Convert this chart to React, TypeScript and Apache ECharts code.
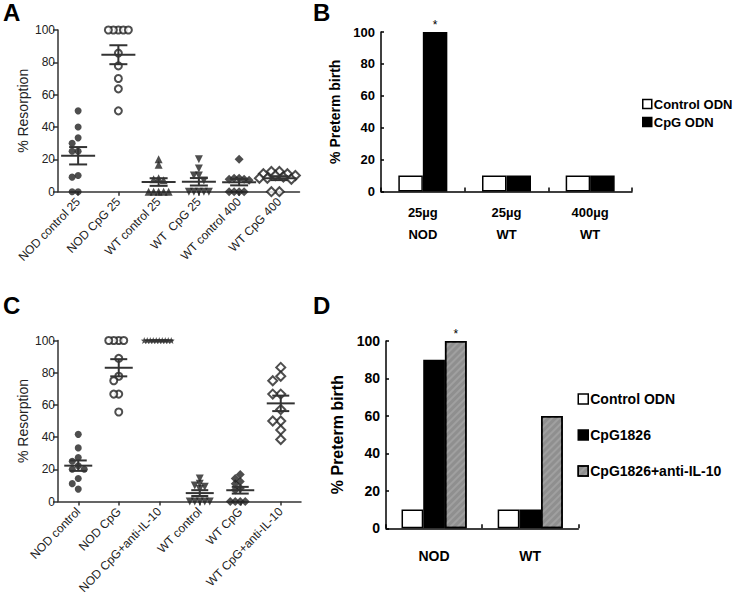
import React, { useEffect, useRef } from 'react';
import * as echarts from 'echarts';

// ---------- Panel A data ----------
const catsA = ['NOD control 25', 'NOD CpG 25', 'WT control 25', 'WT  CpG 25', 'WT control 400', 'WT CpG 400'];
const aNodControl25 = [50, 40, 33.3, 30, 25, 25, 10, 9, 0, 0];
const aNodCpG25 = [100, 100, 100, 100, 100, 85.7, 77.8, 70, 63.6, 50];
const aWtControl25 = [20, 16.7, 8.3, 7.7, 7.1, 0, 0, 0, 0, 0];
const aWtCpG25 = [20, 14.3, 10, 10, 7, 0, 0, 0, 0, 0];
const aWtControl400 = [20, 8.3, 8.3, 7.7, 7.7, 7.1, 0, 0, 0, 0];
const aWtCpG400 = [12.5, 12.5, 11.1, 11.1, 10, 10, 9.1, 8.3, 8.3, 7.7, 0, 0];

// ---------- Panel B data ----------
const catsB = ['25µg\nNOD', '25µg\nWT', '400µg\nWT'];
const bControlODN = [10, 10, 10];
const bCpGODN = [100, 10, 10];
const bCpGStar = [true, false, false];

// ---------- Panel C data ----------
const catsC = ['NOD control', 'NOD CpG', 'NOD CpG+anti-IL-10', 'WT control', 'WT CpG', 'WT CpG+anti-IL-10'];
const cNodControl = [41.7, 33.3, 27.3, 25, 22.2, 20, 20, 14.3, 11.1, 7.7];
const cNodCpG = [100, 100, 100, 100, 88.9, 77.8, 75, 66.7, 66.7, 55.6];
const cNodCpGAnti = [100, 100, 100, 100, 100, 100, 100, 100, 100, 100];
const cWtControl = [14.3, 11.1, 10, 9.1, 7.7, 0, 0, 0, 0, 0];
const cWtCpG = [16.7, 14.3, 12.5, 11.1, 8.3, 7.1, 0, 0, 0, 0];
const cWtCpGAnti = [83.3, 77.8, 75, 66.7, 66.7, 57.1, 50, 50, 44.4, 38.5];

// ---------- Panel D data ----------
const catsD = ['NOD', 'WT'];
const dControlODN = [10, 10];
const dCpG1826 = [90, 10];
const dCpG1826Anti = [100, 60];
const dAntiStar = [true, false];

const yTicks = [0, 20, 40, 60, 80, 100];

const FONT = 'Arial, "Liberation Sans", Helvetica, sans-serif';
const PT = '#222';
const AX = '#333';
const STAR = 'path://M0,-10L2.35,-3.24L9.51,-3.09L3.8,1.24L5.88,8.09L0,4L-5.88,8.09L-3.8,1.24L-9.51,-3.09L-2.35,-3.24Z';

function swarm(values: number[], pxPerUnit: number, step: number, minDist: number) {
  const placed: { x: number; y: number }[] = [];
  return values.map((v) => {
    const y = v * pxPerUnit;
    for (let k = 0; k < 60; k++) {
      const m = Math.ceil(k / 2) * (k % 2 === 1 ? -1 : 1);
      const dx = m * step;
      if (placed.every((p) => (p.x - dx) ** 2 + (p.y - y) ** 2 >= minDist * minDist - 0.01)) {
        placed.push({ x: dx, y });
        return dx;
      }
    }
    return 0;
  });
}

function meanSem(vals: number[]) {
  const n = vals.length;
  const m = vals.reduce((a, b) => a + b, 0) / n;
  const sd = Math.sqrt(vals.reduce((a, b) => a + (b - m) ** 2, 0) / (n - 1));
  return [m, sd / Math.sqrt(n)];
}

type Mk = { symbol: string; size: number; filled: boolean; rotate?: number; step?: number; dist?: number };

function scatter(axis: number, idx: number, vals: number[], mk: Mk, pxPerUnit: number) {
  const offs = swarm(vals, pxPerUnit, mk.step ?? 6, mk.dist ?? 6);
  return {
    type: 'scatter',
    xAxisIndex: axis,
    yAxisIndex: axis,
    clip: false,
    symbol: mk.symbol,
    symbolSize: mk.size,
    symbolRotate: mk.rotate ?? 0,
    itemStyle: mk.filled
      ? { color: PT, borderWidth: 0 }
      : { color: '#fff', borderColor: PT, borderWidth: 2 },
    z: 3,
    data: vals.map((v, i) => ({ value: [idx, v], symbolOffset: [offs[i], 0] })),
  };
}

function errSeries(axis: number, groups: number[][], meanHalf: number, semHalf: number) {
  return {
    type: 'custom',
    xAxisIndex: axis,
    yAxisIndex: axis,
    z: 5,
    clip: false,
    data: groups.map((g, i) => [i, ...meanSem(g)]),
    renderItem: (_p: any, api: any) => {
      const c = api.coord([api.value(0), api.value(1)]);
      const t = api.coord([api.value(0), api.value(1) + api.value(2)]);
      const b = api.coord([api.value(0), api.value(1) - api.value(2)]);
      const st = { stroke: AX, lineWidth: 2 };
      return {
        type: 'group',
        children: [
          { type: 'line', shape: { x1: c[0] - meanHalf, y1: c[1], x2: c[0] + meanHalf, y2: c[1] }, style: st },
          { type: 'line', shape: { x1: c[0], y1: t[1], x2: c[0], y2: b[1] }, style: st },
          { type: 'line', shape: { x1: c[0] - semHalf, y1: t[1], x2: c[0] + semHalf, y2: t[1] }, style: st },
          { type: 'line', shape: { x1: c[0] - semHalf, y1: b[1], x2: c[0] + semHalf, y2: b[1] }, style: st },
        ],
      };
    },
  };
}

const scatterYAxis = (gi: number, name: string) => ({
  type: 'value',
  gridIndex: gi,
  min: 0,
  max: 100,
  interval: 20,
  name,
  nameLocation: 'middle',
  nameGap: 28,
  nameTextStyle: { fontSize: 14, color: PT, fontFamily: FONT },
  axisLine: { show: true, lineStyle: { color: AX, width: 1.5 } },
  axisTick: { show: true, length: 5, lineStyle: { color: AX, width: 1.5 } },
  axisLabel: { fontSize: 12, color: PT, margin: 3, fontFamily: FONT, formatter: (v: number) => (yTicks.includes(v) ? String(v) : '') },
  splitLine: { show: false },
});

const scatterXAxis = (gi: number, cats: string[]) => ({
  type: 'category',
  gridIndex: gi,
  data: cats,
  boundaryGap: true,
  axisLine: { show: true, lineStyle: { color: AX, width: 1.5 } },
  axisTick: { show: true, alignWithLabel: true, length: 4, lineStyle: { color: AX, width: 1.5 } },
  axisLabel: { rotate: 46, fontSize: 12, color: PT, margin: 8, interval: 0, fontFamily: FONT },
  splitLine: { show: false },
});

const barYAxis = (gi: number, nameSize: number, nameGap: number, labelSize: number) => ({
  type: 'value',
  gridIndex: gi,
  min: 0,
  max: 100,
  interval: 20,
  name: '% Preterm birth',
  nameLocation: 'middle',
  nameGap,
  nameTextStyle: { fontSize: nameSize, fontWeight: 'bold', color: '#000', fontFamily: FONT },
  axisLine: { show: true, lineStyle: { color: '#000', width: 1.5 } },
  axisTick: { show: true, inside: true, length: 3, lineStyle: { color: '#000', width: 1.5 } },
  axisLabel: { fontSize: labelSize, fontWeight: 'bold', color: '#000', margin: 6, fontFamily: FONT },
  splitLine: { show: false },
});

const barXAxis = (gi: number, cats: string[], size: number, margin: number) => ({
  type: 'category',
  gridIndex: gi,
  data: cats,
  boundaryGap: true,
  axisLine: { show: true, lineStyle: { color: '#000', width: 1.5 } },
  axisTick: { show: true, inside: true, length: 4, alignWithLabel: false, lineStyle: { color: '#000', width: 1.5 } },
  axisLabel: { fontSize: size, fontWeight: 'bold', color: '#000', margin, lineHeight: 22, interval: 0, fontFamily: FONT },
  splitLine: { show: false },
});

const barStyle = (color: string, decal?: any) => ({
  color,
  borderColor: '#000',
  borderWidth: 1.5,
  ...(decal ? { decal } : {}),
});

const starLabel = { show: true, position: 'top', formatter: '*', fontSize: 12, color: '#000', distance: 1, fontFamily: FONT };

const grayDecal = {
  symbol: 'rect',
  color: 'rgba(255,255,255,0.15)',
  dashArrayX: [1, 0],
  dashArrayY: [2, 3],
  rotation: -Math.PI / 4,
};

export default function App() {
  const ref = useRef<HTMLDivElement>(null);
  useEffect(() => {
    if (!ref.current) return;
    const chart = echarts.init(ref.current, null, { renderer: 'svg' });
    const pxA = 161.7 / 100;
    const pxC = 161 / 100;
    const groupsA = [aNodControl25, aNodCpG25, aWtControl25, aWtCpG25, aWtControl400, aWtCpG400];
    const groupsC = [cNodControl, cNodCpG, cNodCpGAnti, cWtControl, cWtCpG, cWtCpGAnti];
    const mkA: Mk[] = [
      { symbol: 'circle', size: 7, filled: true },
      { symbol: 'circle', size: 7, filled: false, step: 5, dist: 5 },
      { symbol: 'triangle', size: 8, filled: true, step: 5, dist: 5 },
      { symbol: 'triangle', size: 8, filled: true, rotate: 180, step: 5, dist: 5 },
      { symbol: 'diamond', size: 9, filled: true, step: 5, dist: 5 },
      { symbol: 'diamond', size: 9, filled: false, step: 4, dist: 5 },
    ];
    const mkC: Mk[] = [
      { symbol: 'circle', size: 7, filled: true },
      { symbol: 'circle', size: 7, filled: false, step: 5, dist: 5 },
      { symbol: STAR, size: 7, filled: true, step: 3, dist: 3 },
      { symbol: 'triangle', size: 8, filled: true, rotate: 180, step: 5, dist: 5 },
      { symbol: 'diamond', size: 9, filled: true, step: 5, dist: 5 },
      { symbol: 'diamond', size: 9, filled: false, step: 8, dist: 8 },
    ];

    const option: any = {
      animation: false,
      backgroundColor: '#fff',
      textStyle: { fontFamily: FONT },
      grid: [
        { left: 58, top: 30, width: 241.5, height: 161.7, outerBoundsMode: 'none' },
        { left: 381, top: 32, width: 251, height: 159.5, outerBoundsMode: 'none' },
        { left: 58, top: 340.5, width: 243, height: 161, outerBoundsMode: 'none' },
        { left: 386, top: 341, width: 192.3, height: 187.3, outerBoundsMode: 'none' },
      ],
      xAxis: [
        scatterXAxis(0, catsA),
        barXAxis(1, catsB, 13, 10),
        scatterXAxis(2, catsC),
        barXAxis(3, catsD, 14, 17),
      ],
      yAxis: [
        scatterYAxis(0, '% Resorption'),
        barYAxis(1, 14, 39, 13),
        scatterYAxis(2, '% Resorption'),
        barYAxis(3, 16, 41, 14),
      ],
      legend: [
        {
          orient: 'vertical',
          left: 642,
          top: 97.5,
          itemWidth: 9,
          itemHeight: 9,
          itemGap: 5,
          padding: 0,
          icon: 'rect',
          data: ['Control ODN', 'CpG ODN'],
          textStyle: { fontSize: 13, fontWeight: 'bold', color: '#000', fontFamily: FONT, padding: [0, 0, 0, -3] },
          itemStyle: { borderColor: '#000', borderWidth: 1.5 },
          selectedMode: false,
        },
        {
          orient: 'vertical',
          left: 577.5,
          top: 392,
          itemWidth: 10,
          itemHeight: 10,
          itemGap: 22,
          padding: 0,
          icon: 'rect',
          data: ['Control ODN', 'CpG1826', 'CpG1826+anti-IL-10'],
          textStyle: { fontSize: 14, fontWeight: 'bold', color: '#000', fontFamily: FONT, padding: [0, 0, 0, -3] },
          itemStyle: { borderColor: '#000', borderWidth: 1.5 },
          selectedMode: false,
        },
      ],
      graphic: [
        { type: 'text', left: 3, top: 0, style: { text: 'A', font: `bold 24px ${FONT}`, fill: '#000' } },
        { type: 'text', left: 313, top: 0, style: { text: 'B', font: `bold 24px ${FONT}`, fill: '#000' } },
        { type: 'text', left: 3, top: 293, style: { text: 'C', font: `bold 24px ${FONT}`, fill: '#000' } },
        { type: 'text', left: 313, top: 293, style: { text: 'D', font: `bold 24px ${FONT}`, fill: '#000' } },
      ],
      series: [
        ...groupsA.map((g, i) => scatter(0, i, g, mkA[i], pxA)),
        errSeries(0, groupsA, 17, 9),
        ...groupsC.map((g, i) => scatter(2, i, g, mkC[i], pxC)),
        errSeries(2, groupsC, 14, 8.5),
        {
          type: 'bar', name: 'Control ODN', xAxisIndex: 1, yAxisIndex: 1,
          barWidth: 24.5, barGap: '0%', itemStyle: barStyle('#fff'), data: bControlODN,
        },
        {
          type: 'bar', name: 'CpG ODN', xAxisIndex: 1, yAxisIndex: 1,
          barWidth: 24.5, barGap: '0%', itemStyle: barStyle('#000'),
          data: bCpGODN.map((v, i) => (bCpGStar[i] ? { value: v, label: starLabel } : v)),
        },
        {
          type: 'bar', name: 'Control ODN', xAxisIndex: 3, yAxisIndex: 3,
          barWidth: 21.7, barGap: '0%', itemStyle: barStyle('#fff'), data: dControlODN,
        },
        {
          type: 'bar', name: 'CpG1826', xAxisIndex: 3, yAxisIndex: 3,
          barWidth: 21.7, barGap: '0%', itemStyle: barStyle('#000'), data: dCpG1826,
        },
        {
          type: 'bar', name: 'CpG1826+anti-IL-10', xAxisIndex: 3, yAxisIndex: 3,
          barWidth: 21.7, barGap: '0%', itemStyle: barStyle('#8f8f8f', grayDecal),
          data: dCpG1826Anti.map((v, i) => (dAntiStar[i] ? { value: v, label: starLabel } : v)),
        },
      ],
    };
    chart.setOption(option);
    return () => chart.dispose();
  }, []);
  return (
    <div
      ref={ref}
      style={{ position: 'fixed', left: 0, top: 0, width: 734, height: 605, background: '#fff' }}
    />
  );
}
